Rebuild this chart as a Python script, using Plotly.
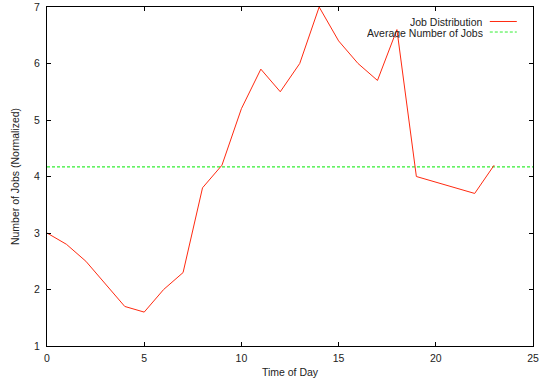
import plotly.graph_objects as go

hours = list(range(24))
jobs = [3.0, 2.8, 2.5, 2.1, 1.7, 1.6, 2.0, 2.3, 3.8, 4.2, 5.2, 5.9,
        5.5, 6.0, 7.0, 6.4, 6.0, 5.7, 6.6, 4.0, 3.9, 3.8, 3.7, 4.2]
avg_x = [0, 25]
avg_y = [4.17, 4.17]
x_ticks = [0, 5, 10, 15, 20, 25]
y_ticks = [1, 2, 3, 4, 5, 6, 7]
series_names = ["Job Distribution", "Average Number of Jobs"]
RED = "#ff2a10"
GREEN = "#33ee33"
FONT = dict(family="Liberation Sans, Arial, sans-serif", size=10.5, color="#222")

fig = go.Figure()
fig.add_trace(go.Scatter(x=avg_x, y=avg_y, mode="lines",
                         line=dict(color=GREEN, width=1.2, dash="3px,2px"),
                         name=series_names[1], showlegend=False))
fig.add_trace(go.Scatter(x=hours, y=jobs, mode="lines",
                         line=dict(color=RED, width=1),
                         name=series_names[0], showlegend=False))

axis_common = dict(showline=True, linecolor="black", linewidth=1, mirror="allticks",
                   ticks="inside", ticklen=4, tickcolor="black", tickwidth=1,
                   showgrid=False, zeroline=False, tickfont=FONT,
                   ticklabeloverflow="allow", automargin=False)
fig.update_xaxes(range=[0, 25], tickvals=x_ticks, ticktext=[str(v) for v in x_ticks],
                 title=dict(text="Time of Day", font=FONT, standoff=6),
                 ticklabelstandoff=2, **axis_common)
fig.update_yaxes(range=[1, 7], tickvals=y_ticks, ticktext=[str(v) for v in y_ticks],
                 title=dict(text="Number of Jobs (Normalized)", font=FONT, standoff=12),
                 ticklabelstandoff=4, **axis_common)

# gnuplot-style key (text left of sample line), top right
rows_y = [16.5, 28.5]
colors = [RED, GREEN]
dashes = ["solid", "3px,2px"]
H = 386
W = 540
for name, yy, c, d in zip(series_names, rows_y, colors, dashes):
    fig.add_annotation(x=485 / W, y=1 - yy / H, xref="paper", yref="paper",
                       xanchor="right", yanchor="middle", text=name,
                       showarrow=False, font=FONT, height=11, borderpad=0,
                       valign="middle")
    fig.add_shape(type="line", xref="paper", yref="paper",
                  x0=492 / W, x1=522 / W, y0=1 - yy / H, y1=1 - yy / H,
                  line=dict(color=c, width=1, dash=d))

fig.update_layout(width=540, height=386, margin=dict(l=47, r=7, t=7, b=40),
                  paper_bgcolor="white", plot_bgcolor="white", font=FONT)
fig.write_html("out.html")
